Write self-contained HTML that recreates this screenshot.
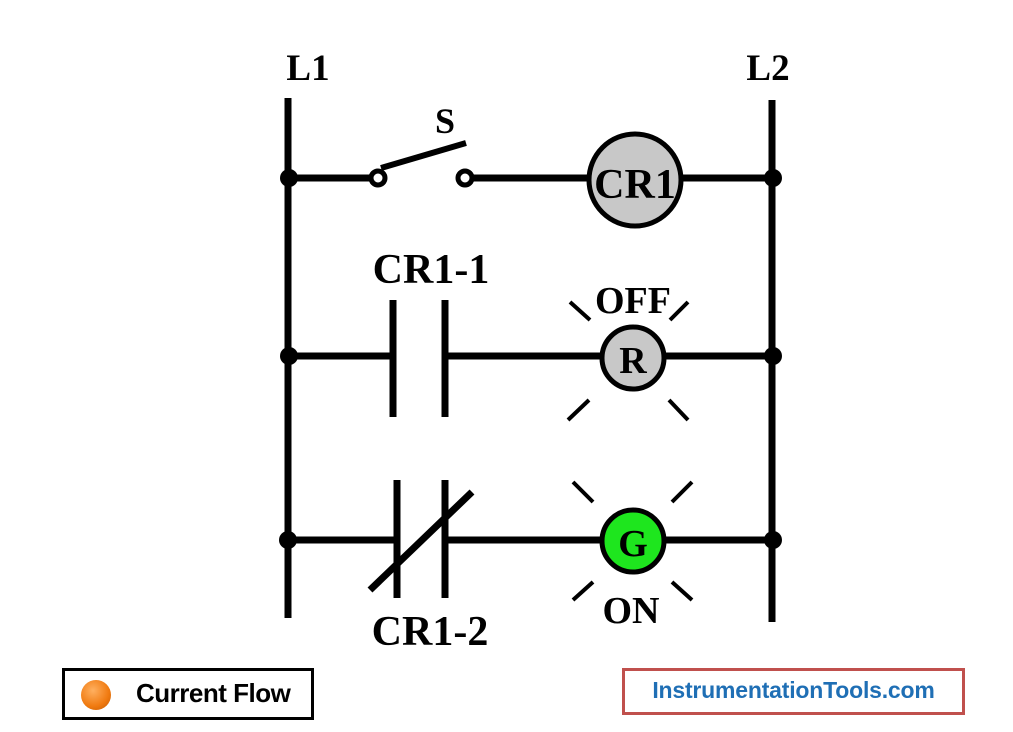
<!DOCTYPE html>
<html><head><style>
body{margin:0;width:1013px;height:732px;background:#fff;overflow:hidden;position:relative}
svg{position:absolute;left:0;top:0}
.box{position:absolute;font-family:"Liberation Sans",sans-serif;box-sizing:border-box}
</style></head><body>
<svg width="1013" height="732" viewBox="0 0 1013 732">
<g stroke="#000" stroke-width="7" fill="none" stroke-linecap="butt">
<line x1="288" y1="98" x2="288" y2="618"/>
<line x1="772" y1="100" x2="772" y2="622"/>
<line x1="288" y1="178" x2="371" y2="178"/>
<line x1="472" y1="178" x2="590" y2="178"/>
<line x1="680" y1="178" x2="772" y2="178"/>
<line x1="381" y1="168" x2="466" y2="143" stroke-width="6"/>
<line x1="288" y1="356" x2="393" y2="356"/>
<line x1="445" y1="356" x2="600" y2="356"/>
<line x1="666" y1="356" x2="772" y2="356"/>
<line x1="393" y1="300" x2="393" y2="417"/>
<line x1="445" y1="300" x2="445" y2="417"/>
<line x1="288" y1="540" x2="397" y2="540"/>
<line x1="445" y1="540" x2="600" y2="540"/>
<line x1="666" y1="540" x2="772" y2="540"/>
<line x1="397" y1="480" x2="397" y2="598"/>
<line x1="445" y1="480" x2="445" y2="598"/>
<line x1="370" y1="590" x2="472" y2="492"/>
</g>
<g stroke="#000" stroke-width="5" fill="#fff">
<circle cx="378" cy="178" r="7"/>
<circle cx="465" cy="178" r="7"/>
</g>
<g fill="#000">
<circle cx="289" cy="178" r="9"/><circle cx="773" cy="178" r="9"/>
<circle cx="289" cy="356" r="9"/><circle cx="773" cy="356" r="9"/>
<circle cx="288" cy="540" r="9"/><circle cx="773" cy="540" r="9"/>
</g>
<circle cx="635" cy="180" r="46" fill="#c8c8c8" stroke="#000" stroke-width="5"/>
<circle cx="633" cy="358" r="31" fill="#c8c8c8" stroke="#000" stroke-width="5"/>
<circle cx="633" cy="541" r="31" fill="#1ee61e" stroke="#000" stroke-width="5"/>
<g stroke="#000" stroke-width="4">
<line x1="570" y1="302" x2="590" y2="320"/><line x1="688" y1="302" x2="670" y2="320"/>
<line x1="568" y1="420" x2="589" y2="400"/><line x1="688" y1="420" x2="669" y2="400"/>
<line x1="573" y1="482" x2="593" y2="502"/><line x1="692" y1="482" x2="672" y2="502"/>
<line x1="573" y1="600" x2="593" y2="582"/><line x1="692" y1="600" x2="672" y2="582"/>
</g>
<g font-family="Liberation Serif,serif" font-weight="bold" fill="#000" text-anchor="middle">
<text x="308" y="80" font-size="37">L1</text>
<text x="768" y="80" font-size="37">L2</text>
<text x="445" y="133" font-size="36">S</text>
<text x="635" y="198" font-size="42">CR1</text>
<text x="431" y="283" font-size="42">CR1-1</text>
<text x="633" y="313" font-size="38">OFF</text>
<text x="633" y="373" font-size="38">R</text>
<text x="633" y="556" font-size="38">G</text>
<text x="631" y="623" font-size="38">ON</text>
<text x="430" y="645" font-size="42">CR1-2</text>
</g>
</svg>
<div class="box" style="left:62px;top:668px;width:252px;height:52px;border:3px solid #000"></div>
<div style="position:absolute;left:81px;top:680px;width:30px;height:30px;border-radius:50%;background:radial-gradient(circle at 40% 35%,#ffb060,#f07a10 60%,#c05800)"></div>
<div class="box" style="left:136px;top:678px;font-size:26px;font-weight:bold;color:#000;letter-spacing:-0.5px">Current Flow</div>
<div class="box" style="left:622px;top:668px;width:343px;height:47px;border:3px solid #c0504d"></div>
<div class="box" style="left:622px;top:677px;width:343px;text-align:center;font-size:23px;font-weight:bold;color:#1f6fb5;letter-spacing:-0.2px">InstrumentationTools.com</div>
</body></html>
